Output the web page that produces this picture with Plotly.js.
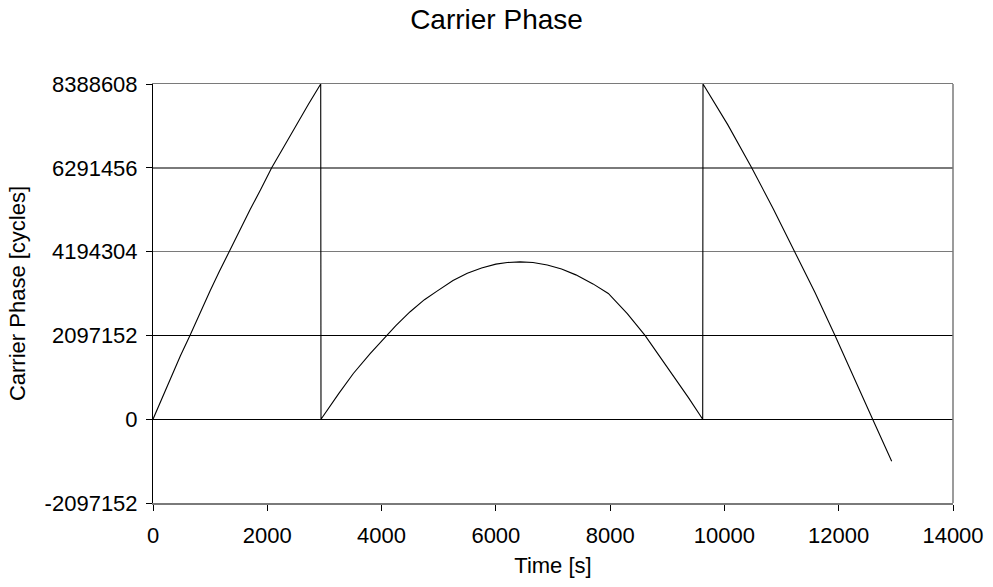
<!DOCTYPE html>
<html>
<head>
<meta charset="utf-8">
<script src="https://cdn.plot.ly/plotly-3.0.1.min.js"></script>
<style>html,body{margin:0;padding:0;background:#fff;}#chart{width:993px;height:587px;}</style>
</head>
<body>
<div id="chart"></div>
<script>
// Time [s] and carrier phase [cycles]
const timeS = [
  0, 160, 320, 480, 647, 820, 1000, 1160, 1330, 1500, 1700, 1880, 2077, 2280, 2500, 2720, 2935,
  2940, 3250, 3506, 3800, 4089, 4250, 4500, 4750, 4964, 5250, 5500, 5750, 6000, 6200, 6423, 6650, 6900, 7150, 7400, 7700, 7968,
  8300, 8610, 8850, 9106, 9370, 9620,
  9625, 10060, 10477, 10856, 11235, 11585, 11935, 12265, 12594, 12927
];
const phaseCycles = [
  0, 539000, 1068000, 1589000, 2097152, 2663000, 3214000, 3694000, 4194304, 4683000, 5245000, 5738000, 6291456, 6791000, 7345000, 7882000, 8388608,
  0, 640000, 1144000, 1640000, 2097152, 2342000, 2690000, 2991000, 3200000, 3472000, 3650000, 3784000, 3880000, 3920000, 3937000, 3920000, 3860000, 3759000, 3612000, 3386000, 3146000,
  2640000, 2097152, 1610000, 1059000, 540000, 0,
  8388608, 7365000, 6291456, 5263000, 4194304, 3168000, 2097152, 1067000, 0, -1051000
];
const yTicks = [-2097152, 0, 2097152, 4194304, 6291456, 8388608];
const yTickText = ['-2097152', '0', '2097152', '4194304', '6291456', '8388608'];
const yBlackGrid = [2097152];
const xTicks = [0, 2000, 4000, 6000, 8000, 10000, 12000, 14000];

const FONT = 'Liberation Sans, Arial, sans-serif';
const yRange = [-2097152, 8388608];

const trace = {
  x: timeS,
  y: phaseCycles,
  type: 'scatter',
  mode: 'lines',
  line: {color: '#000000', width: 1.1},
  hoverinfo: 'x+y',
  showlegend: false
};
const gridHelper = {
  x: [], y: [], type: 'scatter', mode: 'lines', yaxis: 'y2',
  hoverinfo: 'skip', showlegend: false
};

const layout = {
  width: 993,
  height: 587,
  margin: {l: 153, r: 40, t: 84, b: 84, pad: 0},
  paper_bgcolor: '#ffffff',
  plot_bgcolor: '#ffffff',
  font: {family: FONT, size: 22, color: '#000000'},
  title: {
    text: 'Carrier Phase',
    font: {family: FONT, size: 28, color: '#000000'},
    x: 0.5, xref: 'container', xanchor: 'center',
    y: 1 - 19 / 587, yref: 'container', yanchor: 'middle'
  },
  xaxis: {
    range: [0, 14000],
    tickvals: xTicks,
    ticktext: xTicks.map(String),
    showgrid: false,
    zeroline: false,
    showline: true,
    linecolor: '#7a7a7a',
    linewidth: 1.5,
    mirror: true,
    ticks: 'outside',
    ticklen: 6,
    tickcolor: '#000000',
    ticklabelstandoff: 6,
    tickfont: {family: FONT, size: 22, color: '#000000'},
    title: {text: 'Time [s]', font: {family: FONT, size: 22, color: '#000000'}, standoff: 10},
    automargin: false
  },
  yaxis: {
    range: yRange,
    tickvals: yTicks,
    ticktext: yTickText,
    showgrid: true,
    gridcolor: '#7a7a7a',
    gridwidth: 1.5,
    zeroline: true,
    zerolinecolor: '#000000',
    zerolinewidth: 1,
    showline: true,
    linecolor: '#000000',
    linewidth: 1,
    ticks: 'outside',
    ticklen: 6,
    tickcolor: '#000000',
    ticklabelstandoff: 4,
    tickfont: {family: FONT, size: 22, color: '#000000'},
    title: {text: 'Carrier Phase [cycles]', font: {family: FONT, size: 22, color: '#000000'}, standoff: 12},
    automargin: false
  },
  yaxis2: {
    range: yRange,
    overlaying: 'y',
    side: 'left',
    tickvals: yBlackGrid,
    showticklabels: false,
    ticks: '',
    showgrid: true,
    gridcolor: '#000000',
    gridwidth: 1,
    zeroline: false,
    showline: false,
    automargin: false
  },
  shapes: [
    {type: 'line', xref: 'paper', yref: 'paper', x0: 1, x1: 1, y0: 0, y1: 1,
     line: {color: '#7a7a7a', width: 1.5}}
  ]
};

Plotly.newPlot('chart', [gridHelper, trace], layout, {displayModeBar: false, staticPlot: true});
</script>
</body>
</html>
